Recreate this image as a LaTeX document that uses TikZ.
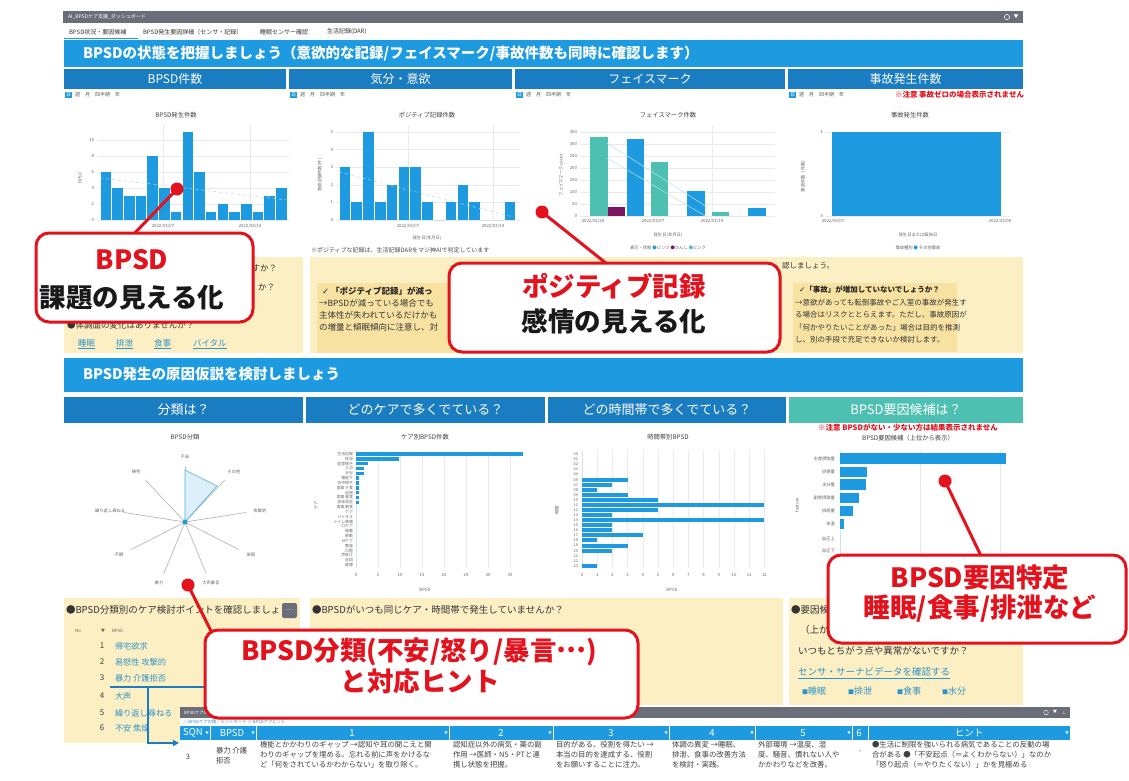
\documentclass[tikz,border=0pt]{standalone}
\usepackage{fontspec}
\setmainfont{Noto Sans CJK JP}
\newfontfamily\dejavu{DejaVu Sans}
\usetikzlibrary{arrows.meta}
\definecolor{bblue}{HTML}{1E9BE0}
\definecolor{hblue}{HTML}{1A7CC1}
\definecolor{cteal}{HTML}{4EC0B2}
\definecolor{cyel}{HTML}{FCEFC4}
\definecolor{cyel2}{HTML}{F8E2A2}
\definecolor{cgray}{HTML}{6B6E78}
\definecolor{cred}{HTML}{E3121C}
\definecolor{clink}{HTML}{2E93C9}
\definecolor{cpurp}{HTML}{7B1660}
\definecolor{cgrid}{HTML}{EAEAEA}
\tikzset{
  txmini/.style={font=\fontsize{4.3}{5}\selectfont, text=black!60},
  txtiny/.style={font=\fontsize{5}{6}\selectfont, text=black!65},
  txtitle/.style={font=\fontsize{6.3}{7}\selectfont, text=black!75},
  txsmall/.style={font=\fontsize{6}{7}\selectfont, text=black!80},
  txbody/.style={font=\fontsize{8.5}{11}\selectfont, text=black!80, anchor=west},
  txcell/.style={font=\fontsize{7.4}{10}\selectfont, text=black!75, anchor=north west, align=left},
  subhead/.style={text=white, font=\fontsize{12}{12}\selectfont},
  subheadb/.style={text=white, font=\fontsize{13}{13}\selectfont},
  callout/.style={draw=cred, line width=3pt, fill=white, rounded corners=13pt},
  calltxt/.style={font=\fontsize{26.5}{26.5}\selectfont\bfseries},
  cline/.style={draw=cred, line width=3pt},
  cdot/.style={circle, fill=cred, minimum size=13pt},
  bar/.style={fill=bblue},
  gridln/.style={draw=cgrid, line width=0.4pt},
  rednote/.style={text=cred, font=\fontsize{7.5}{8}\selectfont\bfseries},
  linktxt/.style={text=clink, font=\fontsize{8.5}{10}\selectfont, anchor=west},
}
\begin{document}
\begin{tikzpicture}[x=1pt,y=-1pt, every node/.style={inner sep=0pt, outer sep=0pt}]
\fill[white] (0,0) rectangle (1129,781);
\useasboundingbox (0,0) rectangle (1129,781);

% ---------- top bar and tabs ----------
\fill[cgray] (63,11) rectangle (1023,23);
\node[txtiny, text=white, anchor=west] (apptitle) at (68,17) {AI\_BPSDケア支援\_ダッシュボード};
\draw[white, line width=0.5pt] (1007,17) circle (2.6pt);
\node[txtiny, text=white] (topmenu) at (1016,17) {▼};
\node[txsmall, anchor=west] (tab1) at (69,32) {BPSD状況・要因候補};
\node[txsmall, anchor=west] (tab2) at (143,32) {BPSD発生要因詳細（センサ・記録）};
\node[txsmall, anchor=west] (tab3) at (260,32) {睡眠センサー確認};
\node[txsmall, anchor=west] (tab4) at (327,32) {生活記録(DAR)};
\draw[bblue, line width=1pt] (64,38.5) -- (138,38.5);

% ---------- banner 1 ----------
\fill[bblue] (64,40) rectangle (1023,67);
\node[anchor=west, text=white, font=\fontsize{14.5}{14.5}\selectfont\bfseries] (ban1) at (83,54) {BPSDの状態を把握しましょう（意欲的な記録/フェイスマーク/事故件数も同時に確認します）};
\foreach \xa/\xb/\t [count=\i] in {64/286/BPSD件数, 289/512/気分・意欲, 515/785/フェイスマーク, 788/1023/事故発生件数} {
  \fill[hblue] (\xa,69) rectangle (\xb,89);
  \node[subhead] (sh\i) at ({(\xa+\xb)/2},79) {\t};
  \fill[bblue] (\xa+1,92) rectangle (\xa+8,98);
  \node[txtiny, text=white] (pd\i) at (\xa+4.5,95) {日};
  \node[txtiny, anchor=west] (pw\i) at (\xa+11,95) {週　月　四半期　年};
}
\node[rednote, anchor=east] (note1) at (1024,95) {※注意 事故ゼロの場合表示されません};

% ---------- chart 1 : BPSD発生件数 ----------
\node[txtitle] (t1) at (176,115) {BPSD発生件数};
\foreach \v in {0,2,...,10} {
  \draw[gridln] (98,{220-8*\v}) -- (290,{220-8*\v});
  \node[txmini, anchor=east] (ya\v) at (94,{220-8*\v}) {\v};
}
\draw[gridln] (163,125) -- (163,220);
\draw[gridln] (250,125) -- (250,220);
\foreach \v [count=\i from 0] in {6,4,3,3,8,4,1,11,6,1,2,1,2,1,3,4}
  \fill[bar] ({100.6+\i*11.7},{220-8*\v}) rectangle ({99.4+(\i+1)*11.7},220);
\draw[bblue!35, dashed, line width=0.5pt] (100,178) -- (287,200);
\node[txmini] (da1) at (163,226) {2022/03/07};
\node[txmini] (da2) at (250,226) {2022/03/14};
\node[txmini, rotate=90] (yt1) at (80,178) {BPSD};

% ---------- chart 2 : ポジティブ記録件数 ----------
\node[txtitle] (t2) at (427,115) {ポジティブ記録件数};
\foreach \v in {0,...,5} {
  \draw[gridln] (336,{220-17.6*\v}) -- (520,{220-17.6*\v});
  \node[txmini, anchor=east] (yb\v) at (333,{220-17.6*\v}) {\v};
}
\draw[gridln] (408,125) -- (408,220);
\draw[gridln] (493,125) -- (493,220);
\foreach \v [count=\i from 0] in {3,1,5,1,2,3,3,1,0,1,2,1,0,0,1}
  \fill[bar] ({339.6+\i*11.8},{220-17.6*\v}) rectangle ({338.4+(\i+1)*11.8},220);
\draw[bblue!35, dashed, line width=0.5pt] (339,172) -- (513,217);
\node[txmini] (db1) at (408,226) {2022/03/07};
\node[txmini] (db2) at (493,226) {2022/03/14};
\node[txmini] (xb) at (427,238) {発生日(年月日)};
\node[txmini, rotate=90] (yt2) at (320,175) {意欲記録件数(件)};
\node[txsmall, anchor=west, text=black!70] (pnote) at (311,250) {※ポジティブな記録は、生活記録DARをマジ神AIで判定しています};

% ---------- chart 3 : フェイスマーク件数 ----------
\node[txtitle] (t3) at (668,115) {フェイスマーク件数};
\foreach \v [count=\i from 0] in {0,50,...,350} {
  \draw[gridln] (580,{216-0.239*\v}) -- (775,{216-0.239*\v});
  \node[txmini, anchor=east] (yc\i) at (577,{216-0.239*\v}) {\v};
}
\draw[gridln] (712,125) -- (712,216);
\fill[cteal] (590,137) rectangle (608,216);
\fill[cpurp] (608,207) rectangle (625,216);
\fill[bblue] (627,139) rectangle (644,216);
\fill[cteal] (651,162) rectangle (668,216);
\fill[bblue] (687,191) rectangle (705,216);
\fill[cteal] (712,212) rectangle (729,216);
\fill[bblue] (748,208) rectangle (766,216);
\draw[bblue!30, line width=0.5pt] (607,143) -- (707,207);
\draw[cteal!40, line width=0.5pt] (607,158) -- (707,217);
\node[txmini] (dc1) at (593,221) {2022/02/28};
\node[txmini] (dc2) at (653,221) {2022/03/07};
\node[txmini] (dc3) at (712,221) {2022/03/14};
\node[txmini] (xc) at (668,235) {発生日(年月日)};
\node[txmini, rotate=90] (yt3) at (561,175) {フェイスマーク count};
\node[txmini] (lgc) at (668,248) {表示・状態 \textcolor{bblue}{●}ピンク \textcolor{cpurp}{●}ひんし \textcolor{cteal}{●}ピンク};

% ---------- chart 4 : 事故発生件数 ----------
\node[txtitle] (t4) at (910,115) {事故発生件数};
\draw[gridln] (826,132) -- (1010,132);
\fill[bar] (832,132) rectangle (1001,216);
\draw[gridln] (826,216) -- (1010,216);
\node[txmini, anchor=east] (yd1) at (823,132) {1};
\node[txmini, anchor=east] (yd0) at (823,216) {0};
\node[txmini] (dd1) at (833,221) {2022/03/07};
\node[txmini] (dd2) at (1000,221) {2022/03/08};
\node[txmini] (xd) at (918,235) {発生日または報告日};
\node[txmini, rotate=90] (yt4) at (803,175) {事故件数（件数）};
\node[txmini] (lgd) at (918,248) {事故種別 \textcolor{bblue}{●} その他事故};

% ---------- yellow row 1 ----------
\fill[cyel] (64,257) rectangle (303,353);
\fill[cyel] (310,257) rectangle (1023,353);
\fill[cyel2] (317,283) rectangle (545,353);
\fill[cyel2] (793,283) rectangle (957,352);
\node[txbody, anchor=east] (lb1) at (277,268) {すか？};
\node[txbody, anchor=east] (lb2) at (275,287) {か？};
\node[txbody] (lb3) at (67,325) {●体調面の変化はありませんか？};
\foreach \x/\t [count=\i] in {78/睡眠, 116/排泄, 154/食事, 193/バイタル} {
  \node[linktxt] (lk\i) at (\x,343) {\t};
  \draw[clink, line width=0.4pt] (lk\i.south west) ++(0,1.5) -- ([yshift=-1.5pt]lk\i.south east);
}
\node[anchor=west, font=\fontsize{8.5}{10}\selectfont\bfseries, text=black!85] (mb0) at (322,291) {{\dejavu ✓} 「ポジティブ記録」が減っ};
\node[txbody] (mb1) at (319,303) {→BPSDが減っている場合でも};
\node[txbody] (mb2) at (319,315) {主体性が失われているだけかも};
\node[txbody] (mb3) at (319,327) {の増量と傾眠傾向に注意し、対};
\node[txbody, font=\fontsize{7.5}{9}\selectfont] (rb0) at (782,266) {認しましょう。};
\node[anchor=west, font=\fontsize{7.5}{9}\selectfont\bfseries, text=black!85] (rc0) at (799,290) {{\dejavu ✓}「事故」が増加していないでしょうか？};
\node[txbody, font=\fontsize{7.5}{9}\selectfont] (rc1) at (795,302.5) {→意欲があっても転倒事故やご入室の事故が発生す};
\node[txbody, font=\fontsize{7.5}{9}\selectfont] (rc2) at (795,315) {る場合はリスクととらえます。ただし、事故原因が};
\node[txbody, font=\fontsize{7.5}{9}\selectfont] (rc3) at (795,327.5) {「何かやりたいことがあった」場合は目的を推測};
\node[txbody, font=\fontsize{7.5}{9}\selectfont] (rc4) at (795,340) {し、別の手段で充足できないか検討します。};

% ---------- banner 2 ----------
\fill[bblue] (64,358) rectangle (1023,392);
\node[anchor=west, text=white, font=\fontsize{14.5}{14.5}\selectfont\bfseries] (ban2) at (83,374) {BPSD発生の原因仮説を検討しましょう};
\foreach \xa/\xb/\c/\t [count=\i] in {64/303/hblue/分類は？, 306/545/hblue/どのケアで多くでている？, 548/786/hblue/どの時間帯で多くでている？, 789/1023/cteal/BPSD要因候補は？} {
  \fill[\c] (\xa,397) rectangle (\xb,423);
  \node[subheadb] (sb\i) at ({(\xa+\xb)/2},410) {\t};
}
\node[rednote] (note2) at (908,428) {※注意 BPSDがない・少ない方は結果表示されません};

% ---------- radar chart ----------
\node[txtitle] (t5) at (185,437) {BPSD分類};
\foreach \lab [count=\k from 0] in {不安,その他,攻撃的,徘徊,大声暴言,暴力,不眠,繰り返し尋ねる,帰宅} {
  \draw[gray!55, line width=0.7pt] (185,522) -- ++({62*sin(40*\k)},{-55*cos(40*\k)});
  \node[txmini] (rl\k) at ({185+76*sin(40*\k)},{522-65*cos(40*\k)}) {\lab};
}
\filldraw[fill=bblue!15, draw=bblue!80, line width=0.6pt] (185,522) -- (185,470) -- (217,486) -- cycle;
\fill[bblue] (185,522) circle (2.5pt);

% ---------- care chart ----------
\node[txtitle] (t6) at (425,437) {ケア別BPSD件数};
\foreach \k in {0,...,7} {
  \draw[gridln] ({356+22*\k},450) -- ({356+22*\k},568);
  \pgfmathtruncatemacro{\tk}{5*\k}
  \node[txmini] (cx\k) at ({356+22*\k},575) {\tk};
}
\foreach \lab/\len [count=\i from 0] in {生活記録/167, 排泄/43, 居室様子/12, 入浴/8, 水分/8, 寝返り/3, 日中様子/3, 食事 夕食/3, 巡視/3, 食事 昼食/3, 身体測定/3, 食事 朝食/0, ケア/0, バイタル/0, トイレ誘導/0, 口ケア/0, 服薬/0, 移動/0, Mケア/0, 整容/0, 口腔/0, 声掛け/0, 巡回/0, 就寝/0} {
  \node[txmini, anchor=east, font=\fontsize{3.9}{4}\selectfont] (cl\i) at (353,{454+4.83*\i}) {\lab};
  \fill[bar] (356,{454+4.83*\i-1.8}) rectangle ({356+\len},{454+4.83*\i+1.8});
}
\node[txmini] (cxt) at (425,590) {BPSD};
\node[txmini, rotate=90] (cyt) at (316,505) {ケア};

% ---------- time chart ----------
\node[txtitle] (t7) at (668,437) {時間帯別BPSD};
\foreach \k in {0,...,12} {
  \draw[gridln] ({582+15.2*\k},450) -- ({582+15.2*\k},568);
  \node[txmini] (tx\k) at ({582+15.2*\k},575) {\k};
}
\foreach \lab/\v [count=\i from 0] in {00/0,01/0,02/0,03/0,04/0,06/3,07/2,08/1,09/3,10/5,11/12,12/5,13/2,14/12,15/2,16/2,17/4,18/1,19/3,20/2,21/0,22/0,23/1} {
  \node[txmini, anchor=east, font=\fontsize{3.9}{4}\selectfont] (tl\i) at (578,{454.3+5.07*\i}) {\lab};
  \fill[bar] (582,{454.3+5.07*\i-2}) rectangle ({582+15.2*\v},{454.3+5.07*\i+2});
}
\node[txmini] (txt) at (672,590) {BPSD};
\node[txmini, rotate=90] (tyt) at (557,510) {時間};

% ---------- factor chart ----------
\node[txtitle] (t8) at (908,438) {BPSD要因候補（上位から表示）};
\foreach \x in {840,920,1000} \draw[gridln] (\x,450) -- (\x,560);
\foreach \lab/\len/\yy [count=\i] in {主食摂取量/1006/458.5, 排便量/867/472, 水分量/866/484.5, 副食摂取量/859/498, 排尿量/853/511, 体温/844/524, 血圧上/840/539, 血圧下/840/551} {
  \node[txmini, anchor=east] (fl\i) at (835,\yy) {\lab};
  \fill[bar] (840,\yy-5.3) rectangle (\len,\yy+5.3);
}
\node[txmini, rotate=90] (fyt) at (797,505) {feature};

% ---------- yellow row 2 ----------
\fill[cyel] (64,598) rectangle (300,743);
\fill[cyel] (310,598) rectangle (783,705);
\fill[cyel] (789,598) rectangle (1023,705);
\node[txbody, font=\fontsize{9.5}{11}\selectfont] (ba1) at (66,610) {●BPSD分類別のケア検討ポイントを確認しましょう};
\fill[cgray, rounded corners=2pt] (282,603) rectangle (297,618);
\node[text=white, font=\fontsize{7}{7}\selectfont] (dots) at (289.5,610) {…};
\node[txmini] (lhno) at (78,631) {No};
\node[txmini] (lhar) at (103,631) {▼};
\node[txmini, anchor=west] (lhbp) at (112,631) {BPSD};
\foreach \t/\yy [count=\i] in {帰宅欲求/646, 易怒性 攻撃的/662, 暴力 介護拒否/678, 大声/696, 繰り返し尋ねる/713, 不安 焦燥/728} {
  \node[font=\fontsize{8}{9}\selectfont, text=black!75] (ln\i) at (102,\yy) {\i};
  \node[linktxt, font=\fontsize{8.2}{9}\selectfont] (lt\i) at (115,\yy) {\t};
}
\coordinate (ua) at (110,687);
\coordinate (ub) at (205,687);
\coordinate (uc) at (148,687);
\coordinate (ud) at (148,743);
\coordinate (ue) at (179,743);
\draw[hblue, line width=1.5pt] (ua) -- (ub);
\draw[hblue, line width=1.5pt, -{Triangle[length=6pt,width=6pt]}] (uc) -- (ud) -- (ue);

\node[txbody, font=\fontsize{9.5}{11}\selectfont] (bb1) at (312,610) {●BPSDがいつも同じケア・時間帯で発生していませんか？};
\node[txbody, font=\fontsize{9.5}{11}\selectfont] (bc1) at (791,610) {●要因候};
\node[txbody, font=\fontsize{9.5}{11}\selectfont] (bc2) at (800,630) {（上か};
\node[txbody, font=\fontsize{9.5}{11}\selectfont] (bc3) at (798,651) {いつもとちがう点や異常がないですか？};
\node[linktxt, font=\fontsize{9.5}{11}\selectfont] (bc4) at (798,672) {センサ・サーナビデータを確認する};
\draw[clink, line width=0.4pt] ([yshift=-1.5pt]bc4.south west) -- ([yshift=-1.5pt]bc4.south east);
\foreach \x/\t [count=\i] in {802/睡眠, 848/排泄, 897/食事, 942/水分}
  \node[linktxt, font=\fontsize{9}{10}\selectfont] (sq\i) at (\x,691) {{\fontsize{6}{6}\selectfont ■}\t};

% ---------- popup table ----------
\fill[cgray] (180,707) rectangle (1070,718);
\node[txmini, text=white, anchor=west] (ptitle) at (184,712.5) {BPSDケアヒント};
\draw[white, line width=0.4pt] (1046,712.5) circle (2.3pt);
\node[txmini, text=white] (pic2) at (1055,712.5) {▼};
\node[txmini, text=white] (pic3) at (1064,712.5) {⊥};
\fill[white] (180,718) rectangle (1070,781);
\node[txmini, text=clink, anchor=west] (crumb) at (183,722) {△ BPSDケア対策・ヒントボード ＞ BPSDケアヒント};
\fill[bblue] (180,726) rectangle (1070,740);
\foreach \x in {210,256,449,553,669,755,852,868} \draw[white, line width=1pt] (\x,726) -- (\x,740);
\foreach \x/\t [count=\i] in {193/SQN, 232/BPSD, 352/1, 501/2, 611/3, 712/4, 803/5, 859/6, 969/ヒント} {
  \node[text=white, font=\fontsize{9.5}{10}\selectfont] (hd\i) at (\x,733) {\t};
}
\foreach \x [count=\i] in {208,254,447,551,667,753,850,1068}
  \node[text=white, font=\fontsize{3.5}{4}\selectfont] (ha\i) at (\x-1,733) {▼};
\node[font=\fontsize{7.4}{9}\selectfont, text=black!75] (r0) at (188,757) {3};
\node[txcell] (r1) at (216,747) {暴力 介護\\拒否};
\node[txcell] (r2) at (260,741.5) {機能とかかわりのギャップ →認知や耳の聞こえと関\\わりのギャップを埋める。忘れる前に声をかけるな\\ど「何をされているかわからない」を取り除く。};
\node[txcell] (r3) at (453,741.5) {認知症以外の病気・薬の副\\作用 →医師・NS・PTと連\\携し状態を把握。};
\node[txcell] (r4) at (556,741.5) {目的がある、役割を得たい →\\本当の目的を達成する、役割\\をお願いすることに注力。};
\node[txcell] (r5) at (672,741.5) {体調の異変 →睡眠、\\排泄、食事の改善方法\\を検討・実践。};
\node[txcell] (r6) at (758,741.5) {外部環境 →温度、湿\\度、騒音、慣れない人や\\かかわりなどを改善。};
\node[font=\fontsize{7.4}{9}\selectfont, text=black!75] (r7) at (860,752) {-};
\node[txcell] (r8) at (872,741.5) {●生活に制限を強いられる病気であることの反動の場\\合がある ●「不安起点（＝よくわからない）」なのか\\「怒り起点（＝やりたくない）」かを見極める};

% ---------- callouts ----------
\node[cdot] (d1) at (177,189) {};
\coordinate (e1) at (132,236);
\draw[cline] (d1.center) -- (e1);
\node[cdot] (d2) at (542,212) {};
\coordinate (e2) at (612,268);
\draw[cline] (d2.center) -- (e2);
\node[cdot] (d3) at (945,481) {};
\coordinate (e3) at (982,558);
\draw[cline] (d3.center) -- (e3);
\node[cdot] (d4) at (188,585) {};
\coordinate (e4) at (212,633);
\draw[cline] (d4.center) -- (e4);

\node[callout, minimum width=217pt, minimum height=89pt] (c1) at (144.5,277.5) {};
\node[calltxt, text=cred] (c1a) at (132,260) {BPSD};
\node[calltxt, text=black!90] (c1b) at (132,298) {課題の見える化};
\node[callout, minimum width=331pt, minimum height=89pt] (c2) at (614.5,307.5) {};
\node[calltxt, text=cred] (c2a) at (614,286) {ポジティブ記録};
\node[calltxt, text=black!90] (c2b) at (614,321) {感情の見える化};
\node[callout, minimum width=298pt, minimum height=88pt] (c3) at (977,599) {};
\node[calltxt, text=cred] (c3a) at (980,578) {BPSD要因特定};
\node[calltxt, text=cred] (c3b) at (980,609) {睡眠/食事/排泄など};
\node[callout, minimum width=433pt, minimum height=88pt] (c4) at (421.5,674) {};
\node[calltxt, text=cred] (c4a) at (419,652) {BPSD分類(不安/怒り/暴言\raisebox{0.3em}{…})};
\node[calltxt, text=cred] (c4b) at (420,681) {と対応ヒント};
\end{tikzpicture}
\end{document}
